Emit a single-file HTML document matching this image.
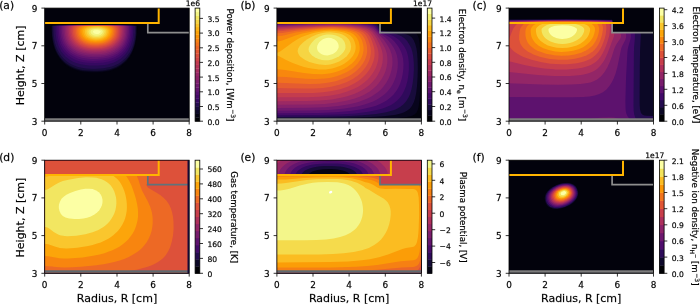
<!DOCTYPE html>
<html><head><meta charset="utf-8"><title>Plasma simulation figure</title>
<style>html,body{margin:0;padding:0;background:#fff}svg{display:block}</style></head>
<body>
<svg width="700" height="304" viewBox="0 0 700 304" font-family="'DejaVu Sans','Liberation Sans',sans-serif" fill="#000"><style>text{stroke:#000;stroke-width:0.3px;stroke-opacity:.6}</style>
<rect width="700" height="304" fill="#fff"/>
<g>
<rect x="44.7" y="8.1" width="144.5" height="113.1" fill="#02020c"/>
<clipPath id="ca"><rect x="44.7" y="8.1" width="144.5" height="113.1"/></clipPath>
<g clip-path="url(#ca)">
<path fill="#040312" d="M83.3 72.2L90.8 72.8L97.1 72.8L101.6 72.6L107.9 71.7L111.5 70.8L114.2 69.8L117 68.7L119.7 67.2L122.4 65.3L125.1 63L127.2 60.9L129.4 58.1L131.2 55.2L132.6 52.4L134.8 46.7L136.1 41.1L137 34.5L137.2 26L136.8 25.6L135.9 25.3L135 25.3L106.1 25.1L56.4 25.2L51.9 25.4L51.1 26L51.4 35.4L51.9 39.2L52.8 43.9L54.1 48.6L55.2 51.5L57.1 55.2L58.9 58.1L61 60.7L63.7 63.5L66.4 65.7L69.1 67.4L71.8 68.9L75.4 70.3L79 71.4L82.6 72.1Z"/>
<path fill="#0c0826" d="M84.6 71.2L92.6 71.7L98 71.7L102.5 71.4L106.1 70.9L109.7 70.2L113.3 69.1L116 67.9L118.8 66.5L121.5 64.8L124.2 62.6L126 60.9L127.8 58.8L129.7 56.2L131.4 53.3L132.7 50.5L134.4 45.8L135.7 40.1L136.5 33.5L136.7 26L135.9 25.6L130.5 25.3L103.4 25.1L61 25.3L52.8 25.6L51.6 26L51.8 31.7L52.1 36.4L52.6 40.1L53.4 43.9L54.5 47.7L56 51.5L57.5 54.3L59.3 57.1L61.5 59.9L63.7 62.2L66.4 64.4L70 66.8L73.6 68.5L77.2 69.8L80.8 70.7L84.4 71.2Z"/>
<path fill="#180c3c" d="M84.7 70.3L92.6 70.8L98 70.7L102.5 70.4L107 69.8L110.6 69L116 67L119.7 65L121.5 63.8L123.9 61.8L126 59.8L127.8 57.7L129.6 55.1L131.4 52L132.5 49.6L134.1 44.9L135.2 40.1L136 33.5L136.2 26L134.1 25.7L127.8 25.4L104.3 25.2L64.6 25.3L56.4 25.6L52.8 25.8L52.3 26L52.6 35.4L53.4 41.1L54.3 44.9L55.2 47.7L56.4 50.7L58.2 54.2L60.1 56.9L61.9 59.2L64.6 61.9L67.3 64L70 65.7L72.7 67.1L77.2 68.8L80.8 69.7L84.4 70.3Z"/>
<path fill="#260c51" d="M86.5 68.4L90.8 68.7L96.2 68.7L103.4 68.3L109.7 67.1L113.3 66L116 64.8L118.8 63.4L121.5 61.6L124.2 59.3L126 57.4L127.8 55.1L129.6 52.4L131.1 49.6L132.3 46.7L133.7 42L134.6 37.3L135 32.8L135.2 26L130.5 25.6L125.1 25.4L102.5 25.2L67.3 25.4L59.2 25.6L53.4 26L53.5 30.7L53.8 35.4L54.3 39.2L55.1 43L56.3 46.7L58 50.5L59.6 53.3L61.6 56.2L63.7 58.5L66.4 61L69.1 62.9L71.8 64.4L75.4 66L78.1 66.9L81.7 67.8L86.2 68.4Z"/>
<path fill="#360961" d="M82.3 64.6L89 65.4L98 65.5L104.3 65L107.9 64.4L110.6 63.6L113.3 62.7L116 61.5L120.6 58.8L122.4 57.3L124.5 55.2L126.1 53.3L128.1 50.5L130.5 45.8L132.2 40.1L132.8 37.3L133.2 33.5L133.5 26L125.1 25.5L107 25.3L70 25.4L61 25.6L55.4 26L55.6 33.5L56.6 40.1L58.4 45.8L59.7 48.6L61.3 51.5L63.5 54.3L65.5 56.4L67.4 58.1L70 59.9L72.7 61.5L75.4 62.7L78.1 63.6L81.7 64.5Z"/>
<path fill="#440a68" d="M87.3 62.8L95.3 63.1L102.5 62.7L108.8 61.6L114.2 59.7L118.8 57.2L121.4 55.2L123.3 53.5L125.1 51.4L126.9 48.8L128.1 46.7L129.3 43.9L130.6 40.1L131.5 35.4L131.9 30.7L131.9 26L122.4 25.5L101.6 25.3L70.9 25.4L62.8 25.7L57.1 26L57.4 33.5L57.9 37.3L58.5 40.1L59.4 43L60.5 45.8L62 48.6L64 51.5L65.7 53.3L68.2 55.6L70.9 57.6L73.6 59.1L76.3 60.3L79.9 61.5L83.5 62.3L87.1 62.8Z"/>
<path fill="#520e6d" d="M93.2 60.9L101.6 60.6L107.9 59.6L113.3 57.8L116 56.5L118.8 54.8L121.5 52.6L123.3 50.7L125.1 48.4L126.7 45.8L128 43L129 40.1L129.7 37.3L130.3 33.5L130.5 29.8L130.5 26L119.7 25.5L97.1 25.3L71.8 25.5L58.8 26L58.8 30.7L59.1 34.5L59.8 38.3L60.5 41.1L61.6 43.9L63.1 46.7L64.6 49L66.7 51.5L69.1 53.7L71.8 55.6L74.5 57.1L77.2 58.3L80.8 59.5L84.4 60.2L88.1 60.7L92.6 60.9Z"/>
<path fill="#61136e" d="M83.4 58.1L89.9 58.9L97.1 59L103.4 58.5L108.8 57.4L113.3 55.8L117.9 53.2L121.5 50.2L124.2 47L125.5 44.9L126.8 42L128.3 37.3L129.1 31.7L129.1 26L120.6 25.6L107 25.4L76.3 25.5L60.4 26L60.4 31.7L61.1 37.3L62.6 42L63.7 44.3L65.1 46.7L66.6 48.6L68.3 50.5L70.5 52.4L72.7 53.9L77.2 56.2L82.6 57.9Z"/>
<path fill="#6f196e" d="M89.6 57.1L97.1 57.2L103.4 56.8L108.8 55.6L113.3 53.9L116 52.4L117.9 51.2L119.7 49.7L121.5 47.9L124.2 44.2L126.1 40.1L127 37.3L127.6 33.5L127.9 28.8L127.8 26L117.9 25.6L100.7 25.4L75.4 25.5L61.9 26L61.7 28.8L61.9 32.6L62.3 35.4L62.9 38.3L63.9 41.1L64.8 43L66.4 45.6L68 47.7L70 49.7L72.1 51.5L74.5 53L77.2 54.3L79.9 55.3L82.6 56.1L85.3 56.6L89 57.1Z"/>
<path fill="#7d1e6d" d="M86.8 55.2L92.6 55.7L99.8 55.6L105.2 54.9L109.7 53.7L114.2 51.7L117.9 49.3L120.6 46.7L122.1 44.9L123.3 43L125.1 39.2L126.1 35.4L126.6 30.7L126.7 27.9L126.4 26L117.9 25.6L103.4 25.5L78.1 25.6L63.4 26L63.2 27.9L63.2 30.7L63.5 33.5L64 36.4L64.8 39.2L65.5 41.1L66.5 43L68.2 45.5L71.2 48.6L73.6 50.5L75.4 51.6L78.1 52.9L80.8 53.9L86.2 55.2Z"/>
<path fill="#8c2369" d="M84.5 53.3L89.9 54.1L96.2 54.3L101.6 54L106.1 53.2L110.6 51.8L114.2 50.1L117.9 47.5L120.6 44.7L122.9 41.1L123.7 39.2L124.6 36.4L125.1 33.5L125.4 30.7L125.4 27.9L125.1 26L106.1 25.5L80.8 25.6L64.9 26L64.6 27.9L64.6 29.8L64.8 32.6L65.2 35.4L66 38.3L66.7 40.1L68.9 43.9L71.8 47.2L75.4 49.9L79.9 52L84.4 53.3Z"/>
<path fill="#982766" d="M87 52.4L92.6 52.9L98.9 52.8L103.4 52.4L107.9 51.3L111.5 50L115.5 47.7L118.7 44.9L120.9 42L122.7 38.3L123.8 34.5L124.1 31.7L124.2 28.8L124.1 26.9L123.8 26L104.3 25.6L81.7 25.6L66.4 26L66 27.9L66 29.8L66.2 32.6L66.6 35.4L67.8 39.2L68.8 41.1L70 43L71.5 44.9L73.5 46.7L77.2 49.2L81.7 51.2L86.2 52.3Z"/>
<path fill="#a62d60" d="M89.9 51.5L95.3 51.7L100.7 51.4L105.2 50.7L109.7 49.3L113.3 47.5L116.9 44.9L119.4 42L121 39.2L122.1 36.4L122.8 32.6L123 27.9L122.4 26L101.6 25.6L81.7 25.7L67.9 26L67.4 27.9L67.4 29.8L67.5 32.6L68 35.4L69.3 39.2L70.4 41.1L71.8 43.1L73.5 44.9L75.4 46.5L79 48.6L83.5 50.3L89 51.4Z"/>
<path fill="#b43359" d="M85.7 49.6L89.9 50.2L95.3 50.5L100.7 50.2L105.2 49.5L108.8 48.4L112.4 46.7L115.1 44.8L117.8 42L119.2 40.1L120.1 38.3L121.3 34.5L121.7 31.7L121.8 28.8L121.5 26.9L121 26L105.2 25.6L84.4 25.7L69.5 26L69.1 26.9L68.7 28.8L69 33.5L70 37.3L70.9 39.2L72 41.1L74.4 43.9L77.2 46.1L80.8 48L85.3 49.5Z"/>
<path fill="#c13a50" d="M86.9 48.6L91.7 49.3L97.1 49.3L101.6 49L105.2 48.3L108.8 47.1L111.6 45.8L114.3 43.9L117 41.2L118.3 39.2L119.3 37.3L120.3 33.5L120.6 28.8L120.2 26.9L119.6 26L105.2 25.7L86.2 25.7L71.1 26L70.5 26.9L70.1 28.8L70.3 32.6L71.1 36.4L71.9 38.3L73 40.1L75.3 43L78.1 45.2L81.7 47.1L86.2 48.5Z"/>
<path fill="#ce4347" d="M87.9 47.7L91.7 48.2L97.1 48.3L101.6 47.9L105.2 47.2L108.8 45.9L111.5 44.5L114.2 42.4L116.3 40.1L117.5 38.3L118.4 36.4L119.3 32.6L119.4 28.8L118.8 26.9L118.2 26L103.4 25.7L86.2 25.7L72.7 26L71.7 27.9L71.5 28.8L71.5 31.7L72.2 35.4L72.9 37.3L73.9 39.2L76.2 42L79 44.3L82.6 46.2L87.1 47.5Z"/>
<path fill="#d94d3d" d="M88.8 46.7L92.6 47.2L98 47.2L101.6 46.8L105.2 46.1L108.8 44.7L111.5 43.2L114 41.1L115.6 39.2L116.7 37.3L117.4 35.4L118.2 31.7L118.2 28.8L117.4 26.9L116.7 26L103.4 25.8L87.1 25.8L74.4 26L73.6 26.9L72.9 28.8L73 32.6L73.3 34.5L74 36.4L75.5 39.2L78.1 42L80.7 43.9L84.4 45.6L88.1 46.6Z"/>
<path fill="#e25734" d="M89.6 45.8L93.5 46.2L98 46.2L101.6 45.8L105.2 45L107.9 44L110.6 42.4L113.3 40.1L114.8 38.3L115.8 36.4L116.5 34.5L117 30.7L116.9 28.8L116.6 27.9L116 26.9L115.1 26L102.5 25.8L76.1 26L75.2 26.9L74.3 28.8L74.2 30.7L74.4 32.6L74.8 34.5L75.4 36.4L77.1 39.2L79 41.2L81.7 43.1L85.3 44.8L89 45.7Z"/>
<path fill="#eb6429" d="M90.1 44.9L93.5 45.2L98 45.2L101.6 44.8L105.2 43.9L107.9 42.8L110.6 41.1L112.6 39.2L114 37.3L115.2 34.5L115.7 32.6L115.8 30.7L115.6 28.8L115.2 27.9L114.2 26.7L113.4 26L101.6 25.8L78 26L76.9 26.9L76.2 27.9L75.6 29.8L75.9 33.5L76.9 36.4L78.8 39.2L80.8 41.1L83.5 42.8L86.2 43.9L89.9 44.8Z"/>
<path fill="#f1731d" d="M90.6 43.9L94.4 44.3L98 44.2L101.6 43.8L104.3 43.1L107 42.1L108.8 41L111.1 39.2L112.6 37.3L114 34.5L114.5 31.7L114.5 29.8L114.3 28.8L113.3 27.4L111.6 26L101.6 25.9L80 26L78.7 26.9L77.8 27.9L77.3 28.8L77.1 29.8L77.2 32.6L78 35.4L79.7 38.3L81.7 40.3L84.4 42L87.1 43.1L89.9 43.8Z"/>
<path fill="#f78212" d="M91.1 43L94.4 43.3L98 43.3L100.7 43L103.4 42.4L106.1 41.3L108.2 40.1L110.4 38.3L111.8 36.4L112.7 34.5L113.3 31.7L113.3 29.8L112.9 28.8L112.3 27.9L111.3 26.9L109.7 26L100.7 25.9L82.1 26L79.9 27.5L78.8 28.8L78.5 29.8L78.5 30.7L78.8 33.5L79.5 35.4L80.8 37.6L82.6 39.4L85.2 41.1L88.1 42.3L90.8 42.9Z"/>
<path fill="#fa9207" d="M91.6 42L94.4 42.3L98 42.3L100.7 42L103.4 41.3L106.1 40.1L107.6 39.2L108.8 38.2L110.4 36.4L111.3 34.5L112 31.7L111.9 29.8L111.5 28.8L110.7 27.9L109.4 26.9L107.4 26L101.6 25.9L84.6 26L82.5 26.9L81.3 27.9L80.5 28.8L80.1 29.8L80 30.7L80.3 33.5L81.1 35.4L82.3 37.3L84.4 39.2L85.9 40.1L88.1 41.1L90.8 41.9Z"/>
<path fill="#fca309" d="M92.1 41.1L95.3 41.4L98 41.3L100.7 41L102.5 40.5L105.2 39.4L107 38.3L108 37.3L109.5 35.4L110.3 33.5L110.7 31.7L110.5 29.8L110 28.8L109 27.9L107.9 27.2L105.2 26.2L104.6 26L100.7 26L87.5 26L84.4 27.1L83.2 27.9L82.2 28.8L81.6 29.8L81.5 30.7L81.6 32.6L82.2 34.5L83.3 36.4L85.2 38.3L86.6 39.2L89 40.3L91.7 41Z"/>
<path fill="#fcb216" d="M92.8 40.1L95.3 40.4L98 40.3L100.7 39.9L102.5 39.4L104.3 38.6L106.3 37.3L107.2 36.4L108.5 34.5L109.1 32.6L109.3 30.7L109.1 29.8L108.4 28.8L107.1 27.9L104.9 26.9L102.5 26.3L99.8 26L92.1 26L89 26.5L87.1 27.1L85.3 27.9L84 28.8L83.3 29.8L83.1 30.7L83.1 31.7L83.5 33.5L84.4 35.4L85.1 36.4L86.2 37.4L88.1 38.6L89.9 39.4L92.6 40.1Z"/>
<path fill="#fac42a" d="M93.8 39.2L96.2 39.4L98.8 39.2L100.7 38.8L102.5 38.2L104.2 37.3L105.5 36.4L106.4 35.4L107.4 33.5L107.7 32.6L107.8 30.7L107.5 29.8L106.6 28.8L104.9 27.9L103.4 27.4L101.6 26.9L98.9 26.6L94.4 26.6L89.9 27.2L87.1 28.1L86 28.8L85.1 29.8L84.8 30.7L84.9 32.6L85.3 33.9L86.2 35.4L87.1 36.4L89 37.7L90.8 38.5L93.5 39.2Z"/>
<path fill="#f6d543" d="M96.1 38.3L99.8 37.9L102.5 36.9L104.5 35.4L105.3 34.5L106.2 32.6L106.3 30.7L105.8 29.8L104.6 28.8L101.6 27.8L98 27.3L94.4 27.4L90.8 27.9L88.1 29L87 29.8L86.5 30.7L86.5 31.7L87 33.5L87.5 34.5L89 36L91.7 37.5L93.5 38L95.3 38.2Z"/>
<path fill="#f2e661" d="M92.4 36.4L95.3 37L98 37L100.6 36.4L102.5 35.4L103.4 34.5L104.1 33.5L104.7 31.7L104.6 30.7L103.8 29.8L101.6 28.7L98 28.1L94.4 28.2L91 28.8L89.2 29.8L88.5 30.7L88.4 31.7L88.6 32.6L88.9 33.5L89.6 34.5L90.7 35.4L91.7 36Z"/>
<path fill="#f3f586" d="M94.2 35.4L96.2 35.7L98.9 35.5L100.7 34.8L102.1 33.5L102.6 32.6L102.8 31.7L102.7 30.7L101.5 29.8L99.8 29.3L97.1 28.9L94.4 29.1L91.8 29.8L90.8 30.6L90.5 31.7L90.7 32.6L91.2 33.5L92.2 34.5L93.5 35.2Z"/>
<path fill="#fcffa4" d="M94.3 33.5L96.2 34.1L98 34.1L98.9 33.8L100.3 32.6L100.7 31.7L100.3 30.7L98.9 30.2L97.1 29.9L94.4 30.3L93.3 30.7L92.9 31.7L93.5 32.8Z"/>
<path d="M147.8 23.2V32.6H189.2" fill="none" stroke="#8e8e8e" stroke-width="1.7"/>
<path d="M44.7 119.45H189.2" fill="none" stroke="#7d7d7d" stroke-width="2.6"/>
<path d="M44.7 22.9H158.7V8.1" fill="none" stroke="#ffb400" stroke-width="2" stroke-linejoin="miter"/>
</g>
<rect x="44.7" y="8.1" width="144.5" height="113.1" fill="none" stroke="#000" stroke-width="0.8"/>
<path d="M44.7 121.2v3.3M80.8 121.2v3.3M117.0 121.2v3.3M153.1 121.2v3.3M189.2 121.2v3.3M44.7 121.2h-3.3M44.7 83.5h-3.3M44.7 45.8h-3.3M44.7 8.1h-3.3" stroke="#000" stroke-width="0.8" fill="none"/>
<g font-size="8.9" text-anchor="middle">
<text x="44.7" y="135.9">0</text>
<text x="80.8" y="135.9">2</text>
<text x="117.0" y="135.9">4</text>
<text x="153.1" y="135.9">6</text>
<text x="189.2" y="135.9">8</text>
</g><g font-size="8.9" text-anchor="end">
<text x="37.4" y="124.6">3</text>
<text x="37.4" y="86.9">5</text>
<text x="37.4" y="49.2">7</text>
<text x="37.4" y="11.5">9</text>
</g>
<rect x="195.1" y="117.43" width="4.7" height="4.07" fill="#000004"/>
<rect x="195.1" y="113.66" width="4.7" height="4.07" fill="#040312"/>
<rect x="195.1" y="109.89" width="4.7" height="4.07" fill="#0c0826"/>
<rect x="195.1" y="106.12" width="4.7" height="4.07" fill="#180c3c"/>
<rect x="195.1" y="102.35" width="4.7" height="4.07" fill="#260c51"/>
<rect x="195.1" y="98.58" width="4.7" height="4.07" fill="#360961"/>
<rect x="195.1" y="94.81" width="4.7" height="4.07" fill="#440a68"/>
<rect x="195.1" y="91.04" width="4.7" height="4.07" fill="#520e6d"/>
<rect x="195.1" y="87.27" width="4.7" height="4.07" fill="#61136e"/>
<rect x="195.1" y="83.50" width="4.7" height="4.07" fill="#6f196e"/>
<rect x="195.1" y="79.73" width="4.7" height="4.07" fill="#7d1e6d"/>
<rect x="195.1" y="75.96" width="4.7" height="4.07" fill="#8c2369"/>
<rect x="195.1" y="72.19" width="4.7" height="4.07" fill="#982766"/>
<rect x="195.1" y="68.42" width="4.7" height="4.07" fill="#a62d60"/>
<rect x="195.1" y="64.65" width="4.7" height="4.07" fill="#b43359"/>
<rect x="195.1" y="60.88" width="4.7" height="4.07" fill="#c13a50"/>
<rect x="195.1" y="57.11" width="4.7" height="4.07" fill="#ce4347"/>
<rect x="195.1" y="53.34" width="4.7" height="4.07" fill="#d94d3d"/>
<rect x="195.1" y="49.57" width="4.7" height="4.07" fill="#e25734"/>
<rect x="195.1" y="45.80" width="4.7" height="4.07" fill="#eb6429"/>
<rect x="195.1" y="42.03" width="4.7" height="4.07" fill="#f1731d"/>
<rect x="195.1" y="38.26" width="4.7" height="4.07" fill="#f78212"/>
<rect x="195.1" y="34.49" width="4.7" height="4.07" fill="#fa9207"/>
<rect x="195.1" y="30.72" width="4.7" height="4.07" fill="#fca309"/>
<rect x="195.1" y="26.95" width="4.7" height="4.07" fill="#fcb216"/>
<rect x="195.1" y="23.18" width="4.7" height="4.07" fill="#fac42a"/>
<rect x="195.1" y="19.41" width="4.7" height="4.07" fill="#f6d543"/>
<rect x="195.1" y="15.64" width="4.7" height="4.07" fill="#f2e661"/>
<rect x="195.1" y="11.87" width="4.7" height="4.07" fill="#f3f586"/>
<rect x="195.1" y="8.10" width="4.7" height="4.07" fill="#fcffa4"/>
<rect x="195.1" y="8.1" width="4.7" height="113.1" fill="none" stroke="#000" stroke-width="0.8"/>
<g font-size="7.6">
<text x="207.4" y="124.5">0.0</text>
<text x="207.4" y="109.9">0.5</text>
<text x="207.4" y="95.2">1.0</text>
<text x="207.4" y="80.5">1.5</text>
<text x="207.4" y="65.8">2.0</text>
<text x="207.4" y="51.1">2.5</text>
<text x="207.4" y="36.4">3.0</text>
<text x="207.4" y="21.7">3.5</text>
</g>
<path d="M199.8 121.2h3.2M199.8 106.5h3.2M199.8 91.8h3.2M199.8 77.1h3.2M199.8 62.4h3.2M199.8 47.8h3.2M199.8 33.1h3.2M199.8 18.4h3.2" stroke="#000" stroke-width="0.8" fill="none"/>
<text x="200.0" y="5.6" font-size="7.6" text-anchor="end">1e6</text>
<text transform="translate(227.1 65.0) rotate(90)" font-size="8.7" text-anchor="middle">Power deposition, [Wm<tspan dx="0.5" dy="-3.6" font-size="6">−3</tspan><tspan dy="3.6">]</tspan></text>
<text transform="translate(24.4 65.4) rotate(-90)" font-size="11" text-anchor="middle">Height, Z [cm]</text>
<text x="-0.8" y="9.2" font-size="10.7">(a)</text>
</g>
<g>
<rect x="276.9" y="8.1" width="144.5" height="113.1" fill="#02020c"/>
<clipPath id="cb"><rect x="276.9" y="8.1" width="144.5" height="113.1"/></clipPath>
<g clip-path="url(#cb)">
<path fill="#08051d" d="M276.9 118.4L276.9 118.8L345.5 118.7L386.6 118.4L397.9 117.9L405.1 117.3L410.6 116.3L412.7 115.5L414.5 114.6L416.4 112.7L417.8 110L418.7 106.5L419.5 100.5L420 91L420.3 77.8L420.4 63.7L420.1 52.4L419.6 43L418.8 38.3L418.2 36.4L417.1 34.5L416.1 33.5L414 32.6L411.5 32.1L408.9 31.7L405.1 31.5L381.7 30.7L379.9 30.5L379.6 29.8L379.3 25.1L379 23.9L378 23.4L377.1 23.2L374.4 23L364.5 22.7L344.6 22.6L276.9 22.7L276.9 117.4Z"/>
<path fill="#180c3c" d="M276.9 117.4L276.9 118.2L315.7 118.1L348.2 117.8L370.8 117.1L383.5 116.2L394.3 114.9L397.9 114.2L401.5 113.2L404.2 112.2L406.9 110.8L409.7 108.8L411.9 106.1L413.8 102.3L415.1 98.3L416.2 92.9L417 86.3L417.6 76.9L417.8 67.5L417.6 59.9L417.2 53.3L416.5 48.6L415.3 43.9L413.6 40.1L411.6 37.3L409.2 35.4L406.9 34.4L403.3 33.3L397.9 32.3L392.1 31.7L379.9 31L379.3 29.8L379 26.5L378 24.7L377.1 24.1L373.5 23.5L360.9 23.1L341 22.9L276.9 23.1L276.9 116.5Z"/>
<path fill="#2f0a5b" d="M276.9 116.5L276.9 116.9L325.7 116.7L345.5 116.3L362.7 115.3L376.2 114L386.2 112.2L390.7 111.1L394.2 109.9L397 108.7L400 107.1L403.3 104.6L406 101.6L408.5 97.6L410.1 93.9L411.5 89.2L412.6 83.5L413.4 76.9L413.9 69.4L413.8 62.8L413.3 57.1L412.5 52.4L411.4 48.6L409.6 44.9L407.1 41.1L404.4 38.3L401.5 36.3L397.3 34.5L394.1 33.5L389.6 32.6L379.9 31.3L379.3 30.7L378 26.8L377.1 25.5L376.2 24.9L375.3 24.5L372.6 24L361.8 23.5L341 23.2L276.9 23.5L276.9 115.5Z"/>
<path fill="#450a69" d="M276.9 114.6L276.9 115.3L318.4 115.1L338.3 114.5L355.5 113.4L368.3 111.8L378 109.8L382.6 108.5L386.5 107.1L390.6 105.2L393.4 103.5L397 100.7L399.7 98L402.1 94.8L404.2 90.8L406 86.2L407.5 80.7L408.4 75L408.9 69.4L408.9 63.7L408.5 59L407.6 54.3L406.4 50.5L404.4 46.7L401.7 43L399.1 40.1L396.1 37.7L394.1 36.4L389.8 34.5L379.9 31.6L378.9 30.7L377.1 27.4L375.8 26L373.5 25L369 24.2L356.4 23.7L336.5 23.4L276.9 23.9L276.9 113.7Z"/>
<path fill="#5c126e" d="M276.9 112.7L276.9 113.2L318.4 112.9L335.6 112.3L350.1 111.1L361.8 109.3L371.5 107.1L375.3 105.9L379.5 104.2L383.5 102.3L386.6 100.5L390.4 97.6L393.4 94.7L396.3 91L398.5 87.3L400.2 83.5L401.7 78.8L402.7 74.1L403.4 68.4L403.5 63.7L403.1 59L402.3 55.2L401 51.5L399.1 47.7L397.2 44.9L394 41.1L390.7 38.1L386.6 35.4L379.9 32.4L378 30.7L376 27.9L374.4 26.6L371.7 25.5L367.2 24.7L358.2 24L336.5 23.7L276.9 24.3L276.9 111.8Z"/>
<path fill="#71196e" d="M276.9 109.9L276.9 110.8L309.4 110.6L328.4 110L342.8 108.8L354.2 107.1L359.1 106L364.5 104.6L369 103.1L373.2 101.4L377 99.5L380.1 97.6L384 94.8L387 92L389.8 88.7L392 85.4L394 81.6L395.8 76.9L397 72.2L397.7 67.5L397.9 62.8L397.6 59L396.9 55.2L395.6 51.5L393.7 47.7L391.2 43.9L388 40.1L385.1 37.3L379 32.9L377.6 31.7L375.3 29L373.5 27.6L371.7 26.7L369.7 26L364.4 25.1L349.7 24.1L332.9 23.9L311.3 24.1L276.9 24.9L276.9 108.9Z"/>
<path fill="#87216b" d="M276.9 107.1L276.9 108L307.6 107.8L324.8 107.2L338.3 106L349.2 104.2L354.6 103L359.1 101.7L363.6 100.1L367.3 98.6L371.1 96.7L374.4 94.6L378.1 92L381.2 89.2L383.7 86.3L386.4 82.6L388.5 78.8L390.4 74.1L391.6 69.8L392.3 65.6L392.5 61.8L392.3 58.1L391.6 54.3L390.3 50.5L389 47.7L386.7 43.9L384 40.1L380.8 36.5L374.4 30L373 28.8L371.4 27.9L369 26.9L366.3 26.3L359.1 25.2L346.4 24.5L329.3 24.3L298.6 24.9L276.9 25.6L276.9 106.1Z"/>
<path fill="#9b2964" d="M276.9 104.2L276.9 104.8L311.2 104.5L324.8 103.9L336.5 102.6L346.4 100.8L351 99.6L355.5 98.2L359.6 96.7L363.6 94.9L367.2 92.9L369.9 91.2L373.5 88.4L376.7 85.4L379.2 82.6L381.7 79.1L383.9 75L385.3 71.7L386.5 67.5L387.2 63.7L387.4 59.9L387.3 57.1L386.7 53.3L385.9 50.5L384.8 47.7L382.8 43.9L379.9 39.2L377.2 35.4L374.8 32.6L373 30.7L370.8 29.2L369 28.3L366.3 27.3L363.6 26.7L359.6 26L354.6 25.5L342.8 24.8L326.6 24.7L312.3 25.1L276.9 26.4L276.9 103.3Z"/>
<path fill="#b1325a" d="M276.9 100.5L276.9 101.2L306.7 101.1L320.2 100.6L332 99.4L341.9 97.6L346.4 96.5L351 95.1L354.6 93.7L358.5 92L361.8 90.2L365 88.2L368.8 85.4L371.7 82.7L374.4 79.7L376.5 76.9L378.3 74.1L380.1 70.3L381.5 66.5L382.4 62.8L382.8 59L382.8 56.2L382.5 53.3L381.9 50.5L380.6 46.7L378.9 43L376.5 38.3L374.4 35.1L372.5 32.6L370.8 31.1L368.9 29.8L366.9 28.8L364.1 27.9L360 26.9L351 25.8L338.3 25.2L325.7 25.2L304.1 26L276.9 27.3L276.9 99.5Z"/>
<path fill="#c43c4e" d="M276.9 96.7L276.9 97.2L306.7 97.3L319.3 96.7L329.3 95.7L339.2 93.9L347.3 91.6L354.6 88.6L358.2 86.7L360.9 85L364.2 82.6L367.2 79.9L369.9 77L372.2 74.1L374.4 70.6L376 67.5L377.1 64.3L378 60.9L378.5 57.1L378.6 54.3L378.3 51.5L377.7 48.6L376.5 44.9L374.1 39.2L372.6 36.4L370.8 33.8L369 32L367.2 30.7L365.4 29.8L361.8 28.5L359.1 27.8L354.3 26.9L343.8 26L332.9 25.7L322.1 25.9L300.7 26.9L282.3 28.2L276.9 28.4L276.9 95.8Z"/>
<path fill="#d74b3f" d="M284.4 92.9L302.2 93.1L313 92.9L323 92.3L332 91L340.2 89.2L344.6 87.8L348.2 86.4L354.6 83.3L358.2 81L360.9 79L363.6 76.6L366.3 73.8L369 70.3L370.7 67.5L372.1 64.6L373.5 60.9L374.4 57.1L374.6 54.3L374.5 50.5L373.8 46.7L372.3 42L370.8 38.3L369.2 35.4L367.6 33.5L365.4 31.7L363.6 30.7L361.6 29.8L358.7 28.8L351.9 27.5L343.7 26.7L332.9 26.3L325.7 26.4L316.6 26.8L299.5 27.9L282.3 29.4L276.9 29.7L276.9 92.9L284.1 92.9Z"/>
<path fill="#e55c30" d="M287.1 88.2L304 88.6L313.9 88.5L323 87.9L331.1 86.8L339.2 84.8L346.4 82.2L352.8 79L358.2 75.2L360.9 72.7L363.6 69.8L366.1 66.5L367.7 63.7L369 60.9L370 58.1L370.7 54.3L370.9 51.5L370.6 47.7L369.7 43.9L368.1 39.2L366.7 36.4L365.3 34.5L363.2 32.6L360.9 31.2L358.2 30.1L353.6 28.8L346.4 27.8L337.4 27.1L328.4 27L322.1 27.2L312.7 27.9L297.7 29.2L282.3 30.9L276.9 31.2L276.9 88.1L286.8 88.2Z"/>
<path fill="#f1711f" d="M297.5 83.5L309.4 83.9L319.3 83.7L327.5 82.8L335.6 81.2L342.8 78.8L349.1 75.9L351.9 74.2L354.7 72.2L357.3 70L360 67.3L362.7 63.8L364.4 60.9L365.7 58.1L366.8 54.3L367.2 51.5L367.1 47.7L366.7 44.9L365.6 41.1L364.4 38.3L363.3 36.4L361.8 34.5L359.4 32.6L357.3 31.5L353.7 30.2L351 29.5L346.4 28.7L341 28.2L334.7 27.8L328.4 27.8L323 28L304 29.8L296.2 30.7L282.3 32.9L276.9 33.2L276.9 82.8L285 82.9L296.8 83.5Z"/>
<path fill="#f8870e" d="M306.2 78.8L315.7 79.1L324.8 78.6L329.3 78L332.9 77.3L336.5 76.3L340.1 75.1L346.4 72.3L349.8 70.3L352.5 68.4L354.7 66.5L357.3 63.9L359.1 61.6L360.8 59L362.1 56.2L363 53.3L363.5 50.5L363.6 47.7L363.2 44.9L362.2 41.1L360.9 38.3L359 35.4L356.8 33.5L355.2 32.6L353.1 31.7L350.2 30.7L345.9 29.8L342.8 29.4L333.8 28.7L323.9 28.8L314.4 29.8L301.1 31.7L295.8 32.6L282.3 35.7L279.6 36.1L276.9 36.3L276.9 76.7L285.9 77L305.8 78.8Z"/>
<path fill="#fca108" d="M313.3 74.1L322.1 74.2L329.3 73.5L332.9 72.8L336.5 71.8L340.1 70.5L343.7 68.9L346.4 67.4L349.1 65.6L351.9 63.4L354.3 60.9L356.4 58.2L357.6 56.2L358.5 54.3L359.4 51.5L359.7 49.6L359.7 46.7L359.3 43.9L358.5 41.1L357.1 38.3L355.8 36.4L353.8 34.5L352.3 33.5L350.3 32.6L347.6 31.7L343.7 30.8L341 30.4L336.5 29.9L332 29.6L323.9 29.9L316.6 30.7L302.2 33.5L295.5 35.4L282.3 40.6L279.6 41.2L276.9 41.4L276.9 69.3L280.5 69.5L285 69.9L304 73.1L313 74.1Z"/>
<path fill="#fbba1f" d="M318 69.4L322.1 69.5L325.7 69.4L332 68.5L335.6 67.5L338.3 66.6L341 65.4L344.2 63.7L347 61.8L349.1 60L351.1 58.1L352.8 56L354.3 53.3L355 51.5L355.5 49.6L355.7 46.7L355.5 44.9L354.7 42L353.9 40.1L352.8 38.1L351.3 36.4L350.1 35.3L348.2 34.2L345.5 33.1L342.8 32.3L339.2 31.6L334.7 31L330.2 30.8L326.6 30.9L323 31.2L315.7 32.5L311.7 33.5L305.7 35.4L301.1 37.3L297.5 39.2L293.1 42L280.5 51.2L278.7 52.2L276.9 52.7L276.9 55.6L277.8 55.7L279.6 56.5L286.1 59.9L292.1 62.8L299.5 65.6L304 66.9L308.5 68L313 68.8L317.5 69.3Z"/>
<path fill="#f6d543" d="M320.1 64.6L325.7 64.9L330.2 64.4L334.7 63.3L339.2 61.4L343.3 59L346.7 56.2L349.1 53.1L350 51.5L350.7 49.6L351.1 46.7L350.9 44.9L350.5 43L349.7 41.1L348.6 39.2L346.4 36.9L343.7 35.2L342.3 34.5L339.3 33.5L334.7 32.7L330.2 32.3L325.7 32.5L321.2 33.2L316.7 34.5L312.2 36.4L307.3 39.2L303.6 42L301.5 43.9L299.8 45.8L298.2 48.6L297.7 50.5L297.7 51.5L298.2 53.3L299.2 55.2L300 56.2L302.2 58.1L305.2 59.9L309.4 61.9L314.8 63.6L319.3 64.5Z"/>
<path fill="#f1ed71" d="M321.7 59.9L324.8 60.3L328.4 60.2L332 59.5L335.6 58.1L339.1 56.2L341.5 54.3L343.7 51.8L345 49.6L345.5 47.7L345.4 44.9L344.5 42L343.2 40.1L341.4 38.3L338.4 36.4L335.9 35.4L332.9 34.7L330.2 34.4L326.6 34.5L323 35.2L319.7 36.4L316.5 38.3L314.2 40.1L311.5 43L309.6 45.8L308.8 47.7L308.6 49.6L309 51.5L310.3 53.6L312.1 55.5L314.8 57.3L318.4 59L321.2 59.8Z"/>
<path fill="#fcffa4" d="M324.9 55.2L327.5 55.4L329.3 55.1L331.1 54.6L332.9 53.9L334.7 52.8L336.3 51.5L337.4 50.1L338.2 48.6L338.6 47.7L338.7 45.8L338.3 43.9L337.3 42L336.5 41.1L334.7 39.6L332.9 38.7L331.1 38.1L328.4 37.8L326.6 37.9L324.8 38.4L322.9 39.2L321.2 40.4L319.4 42L318.1 43.9L317.3 45.8L317 47.7L317.1 48.6L317.5 50.2L318.3 51.5L319.3 52.6L321.2 53.9L323 54.7L324.8 55.2Z"/>
<path d="M380.0 23.2V32.6H421.4" fill="none" stroke="#8e8e8e" stroke-width="1.7"/>
<path d="M276.9 119.45H421.4" fill="none" stroke="#7d7d7d" stroke-width="2.6"/>
<path d="M276.9 22.9H390.9V8.1" fill="none" stroke="#ffb400" stroke-width="2" stroke-linejoin="miter"/>
</g>
<rect x="276.9" y="8.1" width="144.5" height="113.1" fill="none" stroke="#000" stroke-width="0.8"/>
<path d="M276.9 121.2v3.3M313.0 121.2v3.3M349.1 121.2v3.3M385.3 121.2v3.3M421.4 121.2v3.3M276.9 121.2h-3.3M276.9 83.5h-3.3M276.9 45.8h-3.3M276.9 8.1h-3.3" stroke="#000" stroke-width="0.8" fill="none"/>
<g font-size="8.9" text-anchor="middle">
<text x="276.9" y="135.9">0</text>
<text x="313.0" y="135.9">2</text>
<text x="349.1" y="135.9">4</text>
<text x="385.3" y="135.9">6</text>
<text x="421.4" y="135.9">8</text>
</g><g font-size="8.9" text-anchor="end">
<text x="269.6" y="124.6">3</text>
<text x="269.6" y="86.9">5</text>
<text x="269.6" y="49.2">7</text>
<text x="269.6" y="11.5">9</text>
</g>
<rect x="427.3" y="115.54" width="4.7" height="5.96" fill="#000004"/>
<rect x="427.3" y="109.89" width="4.7" height="5.96" fill="#08051d"/>
<rect x="427.3" y="104.23" width="4.7" height="5.96" fill="#180c3c"/>
<rect x="427.3" y="98.58" width="4.7" height="5.95" fill="#2f0a5b"/>
<rect x="427.3" y="92.92" width="4.7" height="5.96" fill="#450a69"/>
<rect x="427.3" y="87.27" width="4.7" height="5.96" fill="#5c126e"/>
<rect x="427.3" y="81.61" width="4.7" height="5.96" fill="#71196e"/>
<rect x="427.3" y="75.96" width="4.7" height="5.95" fill="#87216b"/>
<rect x="427.3" y="70.31" width="4.7" height="5.95" fill="#9b2964"/>
<rect x="427.3" y="64.65" width="4.7" height="5.96" fill="#b1325a"/>
<rect x="427.3" y="58.99" width="4.7" height="5.96" fill="#c43c4e"/>
<rect x="427.3" y="53.34" width="4.7" height="5.96" fill="#d74b3f"/>
<rect x="427.3" y="47.68" width="4.7" height="5.95" fill="#e55c30"/>
<rect x="427.3" y="42.03" width="4.7" height="5.96" fill="#f1711f"/>
<rect x="427.3" y="36.37" width="4.7" height="5.96" fill="#f8870e"/>
<rect x="427.3" y="30.72" width="4.7" height="5.95" fill="#fca108"/>
<rect x="427.3" y="25.06" width="4.7" height="5.96" fill="#fbba1f"/>
<rect x="427.3" y="19.41" width="4.7" height="5.95" fill="#f6d543"/>
<rect x="427.3" y="13.75" width="4.7" height="5.96" fill="#f1ed71"/>
<rect x="427.3" y="8.10" width="4.7" height="5.95" fill="#fcffa4"/>
<rect x="427.3" y="8.1" width="4.7" height="113.1" fill="none" stroke="#000" stroke-width="0.8"/>
<g font-size="7.6">
<text x="439.6" y="124.5">0.0</text>
<text x="439.6" y="109.8">0.2</text>
<text x="439.6" y="95.1">0.4</text>
<text x="439.6" y="80.4">0.6</text>
<text x="439.6" y="65.6">0.8</text>
<text x="439.6" y="50.9">1.0</text>
<text x="439.6" y="36.2">1.2</text>
<text x="439.6" y="21.5">1.4</text>
</g>
<path d="M432.0 121.2h3.2M432.0 106.5h3.2M432.0 91.7h3.2M432.0 77.0h3.2M432.0 62.3h3.2M432.0 47.6h3.2M432.0 32.8h3.2M432.0 18.1h3.2" stroke="#000" stroke-width="0.8" fill="none"/>
<text x="432.2" y="5.6" font-size="7.6" text-anchor="end">1e17</text>
<text transform="translate(459.2 65.0) rotate(90)" font-size="8.7" text-anchor="middle">Electron density, n<tspan dy="2" font-size="6">e</tspan><tspan dy="-2"> [m</tspan><tspan dx="0.5" dy="-3.6" font-size="6">−3</tspan><tspan dy="3.6">]</tspan></text>
<text x="240.4" y="9.2" font-size="10.7">(b)</text>
</g>
<g>
<rect x="509.0" y="8.1" width="144.5" height="113.1" fill="#02020c"/>
<clipPath id="cc"><rect x="509.0" y="8.1" width="144.5" height="113.1"/></clipPath>
<g clip-path="url(#cc)">
<path fill="#0c0826" d="M509 119.3L509 120L618.3 120.1L653.5 119.9L653.5 32.2L641.8 32.1L612.9 31.8L612.7 21.3L612.6 20.4L612 19.5L564.1 19.1L509 19.4L509 118.4Z"/>
<path fill="#240c4f" d="M509 119.3L509 119.8L618.3 119.9L653.5 119.4L653.5 116L646.3 115.7L644.5 115.5L642.7 114.8L641.8 114.1L640.9 112.8L640 109.3L639.7 105.2L639.6 99.5L639.8 66.5L640.1 49.6L640.8 35.4L640.7 32.6L630.9 32.1L612.9 31.9L612.6 31.7L612.6 22.2L612.3 20.4L612 19.9L596.6 19.7L566.8 19.5L509 19.8L509 118.4Z"/>
<path fill="#420a68" d="M509 119.3L509 119.6L607.4 119.7L624.6 119.6L636.3 119.3L635.2 117.4L634.2 114.6L633.7 110.8L633.5 105.2L633.9 53.3L634.1 46.7L634.9 38.3L634.9 32.6L626.4 32.2L612.9 32.1L612.5 31.7L612.5 22.2L612 20.3L596.6 20L566.8 19.8L540.6 19.9L509 20.2L509 118.4Z"/>
<path fill="#5d126e" d="M509 119.3L607.4 119.5L630.3 119.3L629.2 118.4L627.7 116.5L626.4 113.7L625.9 111.8L625.6 108.9L625.4 101.4L626 78.8L627.4 52.4L627.7 49.6L628.3 46.7L630.5 39.2L630.8 37.3L630.8 34.5L630.5 32.6L624.6 32.4L612.9 32.2L612.4 31.7L612.4 22.2L612 20.8L596.6 20.3L566.8 20L541.5 20.1L509 20.6L509 118.4Z"/>
<path fill="#781c6d" d="M587.9 119.3L620 119.3L619.2 119L614.7 117.8L612 117.5L608.3 117.4L600.2 117.8L588.5 119.2ZM509 96.7L509 96.9L555.1 97.2L572.2 97.2L583.1 96.9L589.4 96.4L594.8 95.5L599.3 94.1L602.9 92.2L606.5 89.4L609.2 86.3L611.7 82.6L613.8 78.3L615.6 73.4L617.4 67L621.2 48.6L622.3 45.8L625.3 40.1L626.1 37.3L626.2 35.4L625.7 32.6L614.7 32.3L612.9 32.3L612.3 31.7L612.2 22.2L612 21.2L596.6 20.6L566.8 20.3L540.6 20.4L509 21L509 95.8Z"/>
<path fill="#932667" d="M543 84.4L557.8 84.7L570.4 84.6L580.3 84.1L587.6 83.1L590.3 82.5L593 81.6L595.7 80.3L597.5 79.2L601.1 76.2L604.4 72.2L607.3 67.5L609.9 61.8L611.7 57.1L614.4 48.6L615.6 45.8L616.6 43.9L619.3 40.1L620.5 38.3L621 36.4L621 35.4L620.6 33.5L620.3 32.6L612.9 32.4L612.1 31.7L612.1 22.2L612 21.7L602 21L587.6 20.7L547.8 20.6L509 21.4L509 83.2L542.4 84.4Z"/>
<path fill="#ae305c" d="M554.9 76L562.3 76.1L569.5 75.9L575.8 75.5L581.2 74.9L585.8 74.1L589.4 73.1L593 71.6L595.7 70L598.4 67.8L600.5 65.6L602.9 62.4L604.7 59.4L607.6 53.3L613.9 36.4L614.2 34.5L614.2 32.6L612.9 32.6L612 31.7L612 22.1L604.7 21.5L596.6 21.1L568.6 20.8L541.5 20.9L509 21.8L509 72L537.9 74.9L554.2 75.9Z"/>
<path fill="#c73e4c" d="M554.6 69.4L560.5 69.5L566.8 69.5L572.2 69.1L577.6 68.5L582.2 67.8L586.7 66.6L590.3 65.2L593 63.8L595.7 61.9L598.4 59.4L600.9 56.2L602.7 53.3L604.5 49.6L606.1 45.8L608 40.1L609.3 35.4L609.7 32.6L609.9 28.8L609.9 26L609.4 22.2L602 21.7L593.9 21.4L564.1 21L539.7 21.2L509 22.2L509 61.3L524.4 65L534.3 67L544.2 68.5L554.2 69.3Z"/>
<path fill="#dd513a" d="M550.8 63.7L556 64.1L561.4 64.3L566.8 64.2L572.2 63.8L576.7 63.2L581.2 62.3L584.9 61.2L588.5 59.8L591.2 58.4L593.9 56.6L596.4 54.3L598.4 51.9L600.2 49.2L602 45.8L604.5 39.2L605.7 34.5L606.4 28.8L606.3 26L605.4 22.2L590.3 21.5L564.1 21.2L540.6 21.5L518.9 22.2L515.9 25.1L513.6 27.9L512.7 29.8L509.4 38.3L509 39.6L509 44.9L509.3 45.8L510.4 47.7L511.9 49.6L514 51.5L516.7 53.3L520 55.2L523.5 56.9L527.1 58.3L531.6 59.8L540.6 62.1L550.5 63.7Z"/>
<path fill="#ed6925" d="M550.5 59L558.7 59.7L566.8 59.7L574.9 58.7L581.2 57.3L586.7 55.3L589.4 53.8L591.2 52.6L593 51.2L594.8 49.4L596.6 47.2L598.1 44.9L599.6 42L601.1 38.1L602.1 34.5L602.9 29.8L603 27.9L602.7 26L602 24.1L600.9 22.2L589.4 21.8L573.1 21.5L547.8 21.5L525.9 22.2L523.5 24.3L521.2 26.9L520.2 28.8L519.6 31.7L519.2 35.4L519.2 39.2L519.8 42L520.5 43.9L521.6 45.8L523.1 47.7L525.1 49.6L527.7 51.5L530.7 53.1L533.4 54.4L537 55.8L540.6 56.9L545.1 58.1L549.6 58.9Z"/>
<path fill="#f8850f" d="M553.9 55.2L561.4 55.7L568.6 55.4L574.9 54.5L581.2 52.7L586 50.5L588.5 49L590.3 47.6L592.1 45.9L593.8 43.9L596.2 40.1L597.4 37.3L598.3 34.5L598.9 31.7L599.2 28.8L598.9 26.9L598.1 25.1L596.6 23.2L595.5 22.2L571.3 21.7L550.5 21.7L532.3 22.2L529.8 23.9L528.4 25.1L527.1 26.5L526.2 27.9L525.6 29.8L525.4 32.6L525.5 35.4L526 38.3L526.6 40.1L527.4 42L528.7 43.9L530.3 45.8L532.5 47.6L534.3 48.9L537 50.4L539.7 51.6L546 53.7L553.3 55.1Z"/>
<path fill="#fca50a" d="M555.5 51.5L561.4 51.9L567.7 51.6L573.1 50.7L578.5 49.2L583.1 47.2L586.7 44.8L589.6 42L591.1 40.1L592.3 38.3L593.3 36.4L594.3 33.5L594.9 30.7L595 28.8L594.8 27.8L593.9 26.1L592.1 24.3L590.3 23.2L588.3 22.2L571.3 21.9L554.2 21.9L539.2 22.2L536.1 23.7L533.9 25.1L532.5 26.3L531.3 27.9L530.7 29.8L530.7 31.7L531 34.5L531.4 36.4L532.1 38.3L533.1 40.1L535.3 43L538.7 45.8L543.3 48.3L548.7 50.1L555.1 51.4Z"/>
<path fill="#fac62d" d="M557 47.7L562.3 48L567.6 47.7L572.2 46.8L576.7 45.4L580.3 43.7L584 41.1L586.7 38.3L587.9 36.4L588.9 34.5L589.8 31.7L590.1 29.8L590.1 28.8L589.8 27.9L589.1 26.9L588.2 26L586.8 25.1L583.1 23.4L578.6 22.2L568.6 22.1L547.8 22.2L543.3 23.5L539.8 25.1L537.3 26.9L536.5 27.9L536.1 28.8L535.9 29.8L536 31.7L536.3 33.5L536.8 35.4L538.3 38.3L540.7 41.1L544.2 43.6L547.8 45.4L552.4 46.8L556.9 47.7Z"/>
<path fill="#f2e661" d="M554.7 43L558.7 43.7L562.3 43.9L565.9 43.7L570 43L573.1 42L576.7 40.3L579.4 38.4L581.5 36.4L583.1 34L584 31.7L584.3 29.8L584.2 28.8L583.7 27.9L582.8 26.9L581.2 26L579 25.1L575.5 24.1L570.4 23.3L565.9 22.9L561.4 22.9L556.9 23.1L553.3 23.6L550.3 24.1L546.9 25.1L544.2 26.4L542.3 27.9L541.7 28.8L541.5 29.8L541.7 31.7L542.6 34.5L544.2 37L546 38.8L547.9 40.1L550.5 41.6L554.2 42.8Z"/>
<path fill="#fcffa4" d="M557.1 38.3L559.6 38.7L562.3 38.9L566.8 38.5L569.5 37.7L571.3 36.9L573.1 35.8L574.6 34.5L575.8 33L576.5 31.7L577.1 29.8L576.9 28.8L576 27.9L574.2 26.9L571.3 26.1L568.6 25.6L562.3 25.2L556 25.7L554.2 26.1L551.3 26.9L549.6 27.9L548.7 28.7L548.4 29.8L548.8 31.7L549.6 33.3L550.5 34.5L551.5 35.4L553.3 36.7L556.9 38.2Z"/>
<path d="M612.1 23.2V32.6H653.5" fill="none" stroke="#8e8e8e" stroke-width="1.7"/>
<path d="M509.0 119.45H653.5" fill="none" stroke="#7d7d7d" stroke-width="2.6"/>
<path d="M509.0 22.9H623.0V8.1" fill="none" stroke="#ffb400" stroke-width="2" stroke-linejoin="miter"/>
</g>
<rect x="509.0" y="8.1" width="144.5" height="113.1" fill="none" stroke="#000" stroke-width="0.8"/>
<path d="M509.0 121.2v3.3M545.1 121.2v3.3M581.2 121.2v3.3M617.4 121.2v3.3M653.5 121.2v3.3M509.0 121.2h-3.3M509.0 83.5h-3.3M509.0 45.8h-3.3M509.0 8.1h-3.3" stroke="#000" stroke-width="0.8" fill="none"/>
<g font-size="8.9" text-anchor="middle">
<text x="509.0" y="135.9">0</text>
<text x="545.1" y="135.9">2</text>
<text x="581.2" y="135.9">4</text>
<text x="617.4" y="135.9">6</text>
<text x="653.5" y="135.9">8</text>
</g><g font-size="8.9" text-anchor="end">
<text x="501.7" y="124.6">3</text>
<text x="501.7" y="86.9">5</text>
<text x="501.7" y="49.2">7</text>
<text x="501.7" y="11.5">9</text>
</g>
<rect x="659.4" y="114.13" width="4.7" height="7.37" fill="#000004"/>
<rect x="659.4" y="107.06" width="4.7" height="7.37" fill="#0c0826"/>
<rect x="659.4" y="99.99" width="4.7" height="7.37" fill="#240c4f"/>
<rect x="659.4" y="92.92" width="4.7" height="7.37" fill="#420a68"/>
<rect x="659.4" y="85.86" width="4.7" height="7.37" fill="#5d126e"/>
<rect x="659.4" y="78.79" width="4.7" height="7.37" fill="#781c6d"/>
<rect x="659.4" y="71.72" width="4.7" height="7.37" fill="#932667"/>
<rect x="659.4" y="64.65" width="4.7" height="7.37" fill="#ae305c"/>
<rect x="659.4" y="57.58" width="4.7" height="7.37" fill="#c73e4c"/>
<rect x="659.4" y="50.51" width="4.7" height="7.37" fill="#dd513a"/>
<rect x="659.4" y="43.44" width="4.7" height="7.37" fill="#ed6925"/>
<rect x="659.4" y="36.38" width="4.7" height="7.37" fill="#f8850f"/>
<rect x="659.4" y="29.31" width="4.7" height="7.37" fill="#fca50a"/>
<rect x="659.4" y="22.24" width="4.7" height="7.37" fill="#fac62d"/>
<rect x="659.4" y="15.17" width="4.7" height="7.37" fill="#f2e661"/>
<rect x="659.4" y="8.10" width="4.7" height="7.37" fill="#fcffa4"/>
<rect x="659.4" y="8.1" width="4.7" height="113.1" fill="none" stroke="#000" stroke-width="0.8"/>
<g font-size="7.6">
<text x="671.7" y="124.5">0.0</text>
<text x="671.7" y="108.6">0.6</text>
<text x="671.7" y="92.7">1.2</text>
<text x="671.7" y="76.8">1.8</text>
<text x="671.7" y="60.8">2.4</text>
<text x="671.7" y="44.9">3.0</text>
<text x="671.7" y="29.0">3.6</text>
<text x="671.7" y="13.0">4.2</text>
</g>
<path d="M664.1 121.2h3.2M664.1 105.3h3.2M664.1 89.3h3.2M664.1 73.4h3.2M664.1 57.5h3.2M664.1 41.6h3.2M664.1 25.6h3.2M664.1 9.7h3.2" stroke="#000" stroke-width="0.8" fill="none"/>
<text transform="translate(693.2 65.0) rotate(90)" font-size="8.7" text-anchor="middle">Electron Temperature, [eV]</text>
<text x="472.5" y="9.2" font-size="10.7">(c)</text>
</g>
<g>
<rect x="44.7" y="160.2" width="144.5" height="113.1" fill="#02020c"/>
<clipPath id="cd"><rect x="44.7" y="160.2" width="144.5" height="113.1"/></clipPath>
<g clip-path="url(#cd)">
<path fill="#0c0826" d="M44.7 273.3L189.1 273.3L189.1 160.2L44.7 160.2L44.7 272.4Z"/>
<path fill="#240c4f" d="M44.7 273.3L189 273.3L189 160.2L44.7 160.2L44.7 272.4Z"/>
<path fill="#420a68" d="M44.7 273.3L188.9 273.3L188.9 160.2L44.7 160.2L44.7 272.4Z"/>
<path fill="#5d126e" d="M44.7 273.3L188.8 273.3L188.8 160.2L44.7 160.2L44.7 272.4Z"/>
<path fill="#781c6d" d="M44.7 273.3L188.7 273.3L188.7 160.2L44.7 160.2L44.7 272.4Z"/>
<path fill="#932667" d="M44.7 273.3L188.6 273.3L188.6 160.2L44.7 160.2L44.7 272.4Z"/>
<path fill="#ae305c" d="M44.7 273.3L188.5 273.3L188.5 160.2L44.7 160.2L44.7 272.4Z"/>
<path fill="#c73e4c" d="M44.7 273.3L188.4 273.3L188.4 160.2L44.7 160.2L44.7 272.4Z"/>
<path fill="#dd513a" d="M44.7 273.3L188.3 273.3L188.3 160.2L44.7 160.2L44.7 272.4Z"/>
<path fill="#ed6925" d="M44.7 271.4L44.7 271.8L64.6 271.8L100.7 271.7L126.8 271.4L137.7 269.4L146.8 267L150.4 265.8L154 264.2L156.7 262.8L159.5 261L163 258.2L165.7 255.2L168.1 251.6L170.2 246.9L171.9 241.3L173 235.6L173.6 229L173.5 222.4L173 216.8L172 212L170.8 208.3L169.1 204.5L166.5 200.7L163.8 197.9L160.2 195.1L155.7 192.2L148.6 188L147.7 187.3L146.5 185.6L146.3 184.7L146.8 183.9L147.7 183.2L147.7 181.9L147.7 176.2L146.8 175.1L138.6 174.8L123.3 174.6L44.7 174.5L44.7 270.5Z"/>
<path fill="#f8850f" d="M53.4 266.7L59.2 267.2L64.6 267.4L71.8 267.2L80.8 266.7L96.2 265.3L103.4 264.2L109.7 263.1L115.1 261.8L119.7 260.4L124.2 258.9L128.7 257L132.3 255.1L136.4 252.6L139.5 250.2L142 247.9L144.6 245L146.8 242L148.8 238.4L150.4 234.7L151.6 230.9L152.3 227.1L152.7 223.3L152.7 218.6L152.4 215.8L151.8 212L150.1 206.4L148 201.7L142 190.4L140.5 186.6L138.6 180.3L136.5 175.3L125.1 174.9L107.9 174.7L44.7 174.8L44.7 266L48.3 266.2L52.8 266.6Z"/>
<path fill="#fca50a" d="M59 258.2L63.7 258.5L68.2 258.5L75.4 258.1L82.6 257.4L94.4 255.6L99.6 254.4L104.3 253.2L108.8 251.6L112.4 250.2L116 248.4L119.7 246.4L122.4 244.5L125.2 242.2L128.2 239.4L130.5 236.6L132.5 233.7L134.1 230.9L135.4 228.1L136.6 224.3L137.5 220.5L138 216.8L138.1 213L137.9 209.2L137.2 204.5L135.9 198.8L133.9 192.2L131.5 185.6L129.3 180.9L127 177.2L125.5 175.3L124.2 175.2L96.2 174.9L44.7 175L44.7 255.9L48.3 256.2L58.2 258.1Z"/>
<path fill="#fac62d" d="M59.4 247.9L62.8 248.3L66.4 248.4L70.9 248.2L77.2 247.7L88.1 246L92.6 244.9L97.1 243.6L100.7 242.4L104.3 240.8L107.9 238.9L110.6 237.2L113.3 235.2L116 232.8L117.9 230.9L120.2 228.1L122.4 224.6L123.9 221.5L125.1 218.4L126 214.9L126.7 211.1L126.9 207.3L126.8 203.6L126.4 199.8L125.5 195.1L124.4 191.3L122.9 187.5L121.5 184.7L119.7 181.8L117.3 179L114.2 176.4L112.7 175.3L112.4 175.3L89 175.1L51.3 175.3L47.4 176.4L44.7 176.6L44.7 243.7L46.5 243.9L48.3 244.3L55.5 246.8L59.2 247.8Z"/>
<path fill="#f2e661" d="M61.7 235.6L64.6 236.1L67.3 236.2L71.8 236.1L76.3 235.7L85.3 234.3L92.6 232.3L98.4 229.9L103.4 227L105.7 225.2L107.9 223.2L109.7 221.2L111.6 218.6L113.2 215.8L114.5 213L115.4 210.2L116.1 206.4L116.4 203.6L116.3 199.8L115.9 197L115.1 193.9L114.2 191.3L112.8 188.5L110.8 185.6L109 183.8L106.7 181.9L104.3 180.4L101.6 179.2L98.9 178.4L96.2 177.8L92.6 177.4L86.2 177.3L78.1 178.1L67.3 180L62.8 181.1L59.2 182.5L55.5 184.4L48.3 189L46.5 189.8L44.7 190.1L44.7 226.9L45.6 227L47.4 227.6L49.2 228.6L53.7 231.9L56.4 233.6L58.7 234.7L61 235.4Z"/>
<path fill="#fcffa4" d="M69.8 218.6L74.5 219L79 218.9L83.5 218.4L87.1 217.7L90.8 216.5L94.4 214.6L97.1 212.5L99.3 210.2L101 207.3L101.8 205.4L102.3 203.6L102.5 201.7L102.5 199.8L101.9 197L100.7 194.5L98.8 192.2L96.1 190.4L92.6 189.1L89 188.7L85.3 188.8L80.8 189.6L75.4 191.1L70 193L66.4 194.8L63.7 196.7L61.5 198.8L59.9 201.7L59 204.5L58.8 206.4L58.9 208.3L59.5 211.1L60.9 213.9L62.8 215.9L65.5 217.5L69.1 218.5Z"/>
<path d="M147.8 175.3V184.7H189.2" fill="none" stroke="#60737b" stroke-width="1.7"/>
<path d="M44.7 271.55H189.2" fill="none" stroke="#5f6a70" stroke-width="2.6"/>
<path d="M44.7 175.0H158.7V160.2" fill="none" stroke="#ffb400" stroke-width="2" stroke-linejoin="miter"/>
<rect x="187.5" y="160.2" width="1.5" height="113.1" fill="#1a0b40"/>
</g>
<rect x="44.7" y="160.2" width="144.5" height="113.1" fill="none" stroke="#000" stroke-width="0.8"/>
<path d="M44.7 273.3v3.3M80.8 273.3v3.3M117.0 273.3v3.3M153.1 273.3v3.3M189.2 273.3v3.3M44.7 273.3h-3.3M44.7 235.6h-3.3M44.7 197.9h-3.3M44.7 160.2h-3.3" stroke="#000" stroke-width="0.8" fill="none"/>
<g font-size="8.9" text-anchor="middle">
<text x="44.7" y="288.0">0</text>
<text x="80.8" y="288.0">2</text>
<text x="117.0" y="288.0">4</text>
<text x="153.1" y="288.0">6</text>
<text x="189.2" y="288.0">8</text>
</g><g font-size="8.9" text-anchor="end">
<text x="37.4" y="276.7">3</text>
<text x="37.4" y="239.0">5</text>
<text x="37.4" y="201.3">7</text>
<text x="37.4" y="163.6">9</text>
</g>
<rect x="195.1" y="266.23" width="4.7" height="7.37" fill="#000004"/>
<rect x="195.1" y="259.16" width="4.7" height="7.37" fill="#0c0826"/>
<rect x="195.1" y="252.09" width="4.7" height="7.37" fill="#240c4f"/>
<rect x="195.1" y="245.02" width="4.7" height="7.37" fill="#420a68"/>
<rect x="195.1" y="237.96" width="4.7" height="7.37" fill="#5d126e"/>
<rect x="195.1" y="230.89" width="4.7" height="7.37" fill="#781c6d"/>
<rect x="195.1" y="223.82" width="4.7" height="7.37" fill="#932667"/>
<rect x="195.1" y="216.75" width="4.7" height="7.37" fill="#ae305c"/>
<rect x="195.1" y="209.68" width="4.7" height="7.37" fill="#c73e4c"/>
<rect x="195.1" y="202.61" width="4.7" height="7.37" fill="#dd513a"/>
<rect x="195.1" y="195.54" width="4.7" height="7.37" fill="#ed6925"/>
<rect x="195.1" y="188.47" width="4.7" height="7.37" fill="#f8850f"/>
<rect x="195.1" y="181.41" width="4.7" height="7.37" fill="#fca50a"/>
<rect x="195.1" y="174.34" width="4.7" height="7.37" fill="#fac62d"/>
<rect x="195.1" y="167.27" width="4.7" height="7.37" fill="#f2e661"/>
<rect x="195.1" y="160.20" width="4.7" height="7.37" fill="#fcffa4"/>
<rect x="195.1" y="160.2" width="4.7" height="113.1" fill="none" stroke="#000" stroke-width="0.8"/>
<g font-size="7.6">
<text x="207.4" y="276.6">0</text>
<text x="207.4" y="261.7">80</text>
<text x="207.4" y="246.8">160</text>
<text x="207.4" y="231.9">240</text>
<text x="207.4" y="217.0">320</text>
<text x="207.4" y="202.1">400</text>
<text x="207.4" y="187.2">480</text>
<text x="207.4" y="172.3">560</text>
</g>
<path d="M199.8 273.3h3.2M199.8 258.4h3.2M199.8 243.5h3.2M199.8 228.6h3.2M199.8 213.7h3.2M199.8 198.8h3.2M199.8 183.9h3.2M199.8 169.0h3.2" stroke="#000" stroke-width="0.8" fill="none"/>
<text transform="translate(230.9 217.2) rotate(90)" font-size="8.7" text-anchor="middle">Gas temperature, [K]</text>
<text transform="translate(24.4 217.6) rotate(-90)" font-size="11" text-anchor="middle">Height, Z [cm]</text>
<text x="117.0" y="301.5" font-size="11" text-anchor="middle">Radius, R [cm]</text>
<text x="-0.8" y="161.3" font-size="10.7">(d)</text>
</g>
<g>
<rect x="276.9" y="160.2" width="144.5" height="113.1" fill="#040312"/>
<clipPath id="ce"><rect x="276.9" y="160.2" width="144.5" height="113.1"/></clipPath>
<g clip-path="url(#ce)">
<path fill="#150b37" d="M276.9 273.3L421.4 273.3L421.4 160.2L276.9 160.2L276.9 272.4ZM309.4 174.3L308.9 174.3L309.5 173.4L310.7 172.5L313 171.3L317.5 170L323 169.3L331.1 169.1L337.4 169.5L342.8 170.4L346.4 171.7L347.8 172.5L349 173.4L349.6 174.3L310.3 174.4Z"/>
<path fill="#2f0a5b" d="M276.9 273.3L421.4 273.3L421.4 160.2L276.9 160.2L276.9 272.4ZM302.2 174.3L301.6 174.3L302 173.4L303.1 172.1L305 170.6L307.6 169.2L310.3 168.2L313 167.4L316.6 166.7L320.2 166.3L324.8 166.1L331.1 166L340.1 166.5L343.7 167L347.3 167.9L350.1 168.8L352.8 170.1L354.6 171.3L355.9 172.5L356.6 173.4L357 174.3L332.9 174.5L303.1 174.4Z"/>
<path fill="#4a0c6b" d="M276.9 273.3L421.4 273.3L421.4 160.2L276.9 160.2L276.9 272.4ZM295.9 174.3L295.7 174.3L295.9 173.4L296.5 172.5L297.7 171L299.5 169.4L302.2 167.7L305.8 166.2L309.4 165.2L313 164.4L317.5 163.9L323.9 163.5L331.1 163.4L337.4 163.6L342.8 164.1L347.3 164.8L351.7 165.9L354.6 166.9L358 168.7L360 170.1L361.4 171.5L362.6 173.4L362.9 174.3L332.9 174.6L296.8 174.4Z"/>
<path fill="#64156e" d="M276.9 273.3L421.4 273.3L421.4 160.2L276.9 160.2L276.9 272.4ZM290.4 174.3L290.1 174.3L290.8 172.5L292.3 170.3L295 167.8L297.7 166.1L301.3 164.5L304.9 163.4L309.4 162.4L313.9 161.8L321.2 161.3L329.3 161.1L337.4 161.3L344.6 161.8L350.1 162.5L354.6 163.6L358.4 164.9L362.1 166.8L364.7 168.7L366.5 170.6L367.8 172.5L368.4 174.3L333.8 174.7L291.3 174.4Z"/>
<path fill="#7d1e6d" d="M276.9 273.3L421.4 273.3L421.4 160.2L361.8 160.2L351.4 160.2L356.4 161.1L359.9 162.1L363.6 163.5L366.3 164.9L369 166.8L371.8 169.6L373.5 172.5L374 174.3L357.3 174.7L332.9 174.8L304.9 174.7L284.5 174.3L285.1 172.5L286.8 169.6L289.5 166.8L292.2 164.9L295 163.5L298.7 162.1L302.2 161.1L307.2 160.2L276.9 160.2L276.9 272.4Z"/>
<path fill="#972766" d="M276.9 273.3L421.4 273.3L421.4 160.2L376.2 160.2L364.5 160.2L368.1 161.5L370.8 162.8L372.8 164L375.2 165.9L377 167.7L378.4 169.6L379.7 172.5L380.2 174.3L362.7 174.7L334.7 174.8L302.2 174.7L278.4 174.3L278.8 172.5L280.2 169.6L281.6 167.7L283.4 165.9L285.8 164L287.7 162.8L290.4 161.5L294 160.2L276.9 160.2L276.9 272.4Z"/>
<path fill="#b0315b" d="M276.9 273.3L421.4 273.3L421.4 160.2L409.7 160.2L376.2 160.2L379 161.7L380.8 162.9L383.9 165.9L385.3 167.7L386.4 169.6L387.5 172.5L387.8 174.3L380.8 174.7L343.7 174.9L303.1 174.9L276.9 174.5L276.9 272.4ZM276.9 163L276.9 163.6L279.6 161.7L282.3 160.2L276.9 160.2L276.9 162.1Z"/>
<path fill="#c73e4c" d="M276.9 273.3L421.4 273.3L421.4 160.2L390.8 160.2L391.1 165.9L391.2 174.3L390.7 174.9L380.8 175.1L373.5 174.9L316.6 175L276.9 174.7L276.9 272.4Z"/>
<path fill="#db503b" d="M276.9 271.4L276.9 272.2L289.5 272.2L414.2 272L418.7 271.9L420 271.4L420.5 270.6L421.4 267.8L421.4 184L413.3 183.9L380.8 183.9L380.6 183.8L380.5 178.1L380.1 176.2L379.9 175.8L378.3 175.3L369.9 175.1L307.6 175.1L276.9 174.9L276.9 270.5Z"/>
<path fill="#eb6628" d="M276.9 271.4L276.9 271.8L289.5 271.8L360.9 271.7L411.7 271.4L415.1 271.1L416.9 270.6L417.8 270.1L418.7 269.3L419.7 267.6L420.5 265.8L421.4 261.9L421.4 184.4L418.7 184.2L413.3 184.1L380.8 184.2L380.3 183.8L380.2 180L379.9 177.8L378 177L375.3 176.2L369.7 175.3L276.9 175L276.9 270.5Z"/>
<path fill="#f68013" d="M276.9 271.4L329.3 271.4L359.1 270.8L377.1 269.7L401.5 267.4L413.3 266.9L415.1 266.6L416.9 265.8L417.8 265.1L418.7 264L419.6 262.1L420.5 258.6L421.4 251.1L421.4 186.5L421 184.7L418.7 184.4L413.3 184.4L380.8 184.4L380.1 183.8L379.9 180.6L378 179.5L376.2 178.7L373.5 177.9L369.8 177.2L358.2 175.9L350.1 175.5L339 175.3L276.9 175.2L276.9 270.5Z"/>
<path fill="#fb9d07" d="M276.9 266.7L276.9 267.6L289.5 267.6L331.1 267.4L355.9 266.7L367.2 265.9L377.1 264.9L400.6 261.3L413.3 260.2L415.1 259.7L416 259.3L416.9 258.5L417.8 257.3L418.7 255.2L419.6 251.4L420.5 243.1L420.9 232.8L421.1 218.6L421.1 205.4L420.9 196L420.3 189.4L419.6 186.5L418.7 184.7L412.4 184.6L388.9 184.7L381.7 184.9L379.9 184.8L378 183.1L376.3 181.9L374.3 180.9L371.3 180L358.2 177.5L347.3 176.5L337.4 176.1L317.5 176L276.9 176.8L276.9 265.8Z"/>
<path fill="#fbbc21" d="M276.9 262L276.9 262.4L330.2 262.1L348.2 261.5L361.8 260.3L369.9 259.2L379 257.2L388 254.4L402.4 249L406 248.1L412.4 247.1L414.2 246.4L415.1 245.6L416 244.4L416.9 242.2L417.8 238L418.3 233.7L418.7 228.1L419.1 214.9L419 204.5L418.7 197.6L417.8 192.8L416.9 190.9L416 190L415.1 189.4L413.3 189L408.8 188.9L395.2 188.7L385.3 188.9L379.9 188.4L377.4 187.5L373.5 185L371 183.8L368.1 182.8L365.4 182.2L360 180.2L352.8 178.6L349.3 178.1L343.7 177.6L331.1 177.2L315.7 177.4L304 177.9L285.9 179.4L276.9 179.6L276.9 261Z"/>
<path fill="#f5db4c" d="M276.9 254.4L276.9 254.6L292.3 254.6L319.3 254.5L332.9 254L343.7 253.3L353.7 252L361.8 250.2L368.8 247.9L374.2 245L378.1 242.2L381.1 239.4L383.4 236.5L385.8 232.8L387.6 229L389.2 224.3L390.2 219.6L390.7 214.9L390.7 211.1L390.2 208.3L389.4 205.4L387.8 202.6L386.2 200.7L383.9 198.8L376.2 194.3L369 189.7L365.4 187.9L363.8 186.6L360.9 184.7L357.1 182.8L354.6 181.9L351 180.8L347.2 180L341.9 179.3L337.4 179L329.3 178.9L315.7 179.2L306.7 180L285.9 183.1L281.4 183.5L276.9 183.7L276.9 253.5Z"/>
<path fill="#f3f68a" d="M288.8 240.3L304.9 240.3L316.6 240L326.1 239.4L333.5 238.4L340.1 237L345.5 235.2L350.5 232.8L354.6 229.7L356.4 227.9L358.5 225.2L360.2 222.4L361.4 219.6L362.3 216.8L362.9 213L363.1 210.2L362.8 206.4L362.1 202.6L361.2 199.8L359.5 196L357.8 193.2L355.6 190.4L353.6 188.5L351 186.6L348.2 185.1L344.9 183.8L342.8 183.2L337.4 182.3L327.5 181.9L318.4 182.2L312.8 182.8L307.4 183.8L299.9 185.6L289.5 188.7L285 189.8L280.5 190.4L276.9 190.6L276.9 240.2L288.6 240.3Z"/>
<path d="M380.0 175.3V184.7H421.4" fill="none" stroke="#60737b" stroke-width="1.7"/>
<path d="M276.9 271.55H421.4" fill="none" stroke="#5f6a70" stroke-width="2.6"/>
<path d="M276.9 175.0H390.9V160.2" fill="none" stroke="#ffb400" stroke-width="2" stroke-linejoin="miter"/>
<ellipse cx="330.7" cy="192.2" rx="1.7" ry="1.2" fill="#fff" transform="rotate(-25 330.7 192.2)"/>
</g>
<rect x="276.9" y="160.2" width="144.5" height="113.1" fill="none" stroke="#000" stroke-width="0.8"/>
<path d="M276.9 273.3v3.3M313.0 273.3v3.3M349.1 273.3v3.3M385.3 273.3v3.3M421.4 273.3v3.3M276.9 273.3h-3.3M276.9 235.6h-3.3M276.9 197.9h-3.3M276.9 160.2h-3.3" stroke="#000" stroke-width="0.8" fill="none"/>
<g font-size="8.9" text-anchor="middle">
<text x="276.9" y="288.0">0</text>
<text x="313.0" y="288.0">2</text>
<text x="349.1" y="288.0">4</text>
<text x="385.3" y="288.0">6</text>
<text x="421.4" y="288.0">8</text>
</g><g font-size="8.9" text-anchor="end">
<text x="269.6" y="276.7">3</text>
<text x="269.6" y="239.0">5</text>
<text x="269.6" y="201.3">7</text>
<text x="269.6" y="163.6">9</text>
</g>
<rect x="427.3" y="266.23" width="4.7" height="7.37" fill="#040312"/>
<rect x="427.3" y="259.16" width="4.7" height="7.37" fill="#150b37"/>
<rect x="427.3" y="252.09" width="4.7" height="7.37" fill="#2f0a5b"/>
<rect x="427.3" y="245.02" width="4.7" height="7.37" fill="#4a0c6b"/>
<rect x="427.3" y="237.96" width="4.7" height="7.37" fill="#64156e"/>
<rect x="427.3" y="230.89" width="4.7" height="7.37" fill="#7d1e6d"/>
<rect x="427.3" y="223.82" width="4.7" height="7.37" fill="#972766"/>
<rect x="427.3" y="216.75" width="4.7" height="7.37" fill="#b0315b"/>
<rect x="427.3" y="209.68" width="4.7" height="7.37" fill="#c73e4c"/>
<rect x="427.3" y="202.61" width="4.7" height="7.37" fill="#db503b"/>
<rect x="427.3" y="195.54" width="4.7" height="7.37" fill="#eb6628"/>
<rect x="427.3" y="188.47" width="4.7" height="7.37" fill="#f68013"/>
<rect x="427.3" y="181.41" width="4.7" height="7.37" fill="#fb9d07"/>
<rect x="427.3" y="174.34" width="4.7" height="7.37" fill="#fbbc21"/>
<rect x="427.3" y="167.27" width="4.7" height="7.37" fill="#f5db4c"/>
<rect x="427.3" y="160.20" width="4.7" height="7.37" fill="#f3f68a"/>
<rect x="427.3" y="160.2" width="4.7" height="113.1" fill="none" stroke="#000" stroke-width="0.8"/>
<g font-size="7.6">
<text x="439.6" y="265.9">−6</text>
<text x="439.6" y="249.4">−4</text>
<text x="439.6" y="233.0">−2</text>
<text x="439.6" y="216.6">0</text>
<text x="439.6" y="200.1">2</text>
<text x="439.6" y="183.7">4</text>
<text x="439.6" y="167.2">6</text>
</g>
<path d="M432.0 262.5h3.2M432.0 246.1h3.2M432.0 229.7h3.2M432.0 213.2h3.2M432.0 196.8h3.2M432.0 180.3h3.2M432.0 163.9h3.2" stroke="#000" stroke-width="0.8" fill="none"/>
<text transform="translate(460.0 217.2) rotate(90)" font-size="8.7" text-anchor="middle">Plasma potential, [V]</text>
<text x="349.1" y="301.5" font-size="11" text-anchor="middle">Radius, R [cm]</text>
<text x="240.4" y="161.3" font-size="10.7">(e)</text>
</g>
<g>
<rect x="509.0" y="160.2" width="144.5" height="113.1" fill="#02020c"/>
<clipPath id="cf"><rect x="509.0" y="160.2" width="144.5" height="113.1"/></clipPath>
<g clip-path="url(#cf)">
<path fill="#0e092b" d="M551.8 208.3L554.2 208.9L557.8 208.9L560.5 208.6L564.1 207.6L568.6 205.7L571.3 204.2L574 202L575.9 199.8L577.1 197.9L578.1 195.1L578.2 192.2L577.8 190.4L577.1 188.5L575.9 186.6L575 185.6L573.1 184.2L570.4 183.2L566.8 182.8L565 182.9L561.4 183.3L557.8 184.5L556 185.2L552.4 187.1L549.6 189.1L547.5 191.3L545.7 194.1L545 196L544.7 197.9L545 200.7L545.6 202.6L546.6 204.5L547.3 205.4L548.7 206.8L550.5 207.8L551.4 208.1Z"/>
<path fill="#2d0b59" d="M551.7 207.3L554.2 208L556.9 208.2L559.6 208L563.2 207.2L565.9 206.2L569.5 204.5L572.3 202.6L574.9 199.9L575.8 198.8L576.7 197L577.4 195.1L577.6 193.2L577.3 191.3L576.7 189.3L575.8 187.5L575 186.6L573.1 185L570.4 183.8L567.7 183.4L565 183.4L562 183.8L558.7 184.7L556 185.8L552.8 187.5L550.3 189.4L548.4 191.3L547 193.2L546 195.5L545.7 197.9L546 201.1L546.9 203.2L547.8 204.6L549.6 206.2L551.4 207.2Z"/>
<path fill="#4f0d6c" d="M553.1 206.4L555.1 206.9L557.8 207L560.5 206.8L564.1 205.8L566.8 204.8L569.5 203.3L571.9 201.7L574 199.5L575.6 197L576.3 195.1L576.5 193.2L576.3 191.3L575.7 189.4L574.6 187.5L573.1 186L570.7 184.7L568.6 184.2L565.9 184L563.2 184.2L559.6 185.1L556.9 186.2L554.2 187.5L551.5 189.4L549.6 191.3L548.3 193.2L547.4 195.1L547 197.9L547.2 199.8L547.8 201.7L548.9 203.6L550.5 205.1L552.4 206.1Z"/>
<path fill="#6d186e" d="M554.3 205.4L556.9 205.9L559.6 205.8L562.3 205.3L565 204.5L567.7 203.3L570.4 201.6L572.5 199.8L574 197.9L575 196L575.5 194.1L575.5 192.2L574.7 189.4L573.5 187.5L572.5 186.6L570.4 185.4L568.6 184.9L566.8 184.7L564.1 184.7L561.4 185.2L558.7 186.1L556 187.3L554 188.5L551.7 190.4L550 192.2L549 194.1L548.4 196L548.2 197.9L548.6 199.8L549.3 201.7L550.5 203.3L552.4 204.7L554.2 205.4Z"/>
<path fill="#8d2369" d="M555.4 204.5L557.8 204.9L559.6 204.8L562.3 204.4L565 203.5L567.7 202.3L569.5 201.2L571.3 199.7L572.9 197.9L574 196L574.5 194.1L574.6 192.2L574.1 190.4L573.1 188.5L572.2 187.5L570.4 186.3L568.6 185.6L566.8 185.3L564.1 185.4L561.4 185.9L559.2 186.6L556.9 187.6L554.2 189.3L552.8 190.4L551.2 192.2L550.1 194.1L549.5 196L549.5 197.9L549.9 199.8L550.9 201.7L551.8 202.6L553.3 203.7L555.1 204.4Z"/>
<path fill="#ad305d" d="M556.4 203.6L558.7 203.8L560.5 203.7L562.3 203.4L565 202.5L567.7 201.3L569.5 200.1L570.9 198.8L572.2 197.3L572.9 196L573.6 194.1L573.6 192.2L573.2 190.4L572.2 188.7L571.3 187.8L570.4 187.1L568.6 186.3L566.8 186L564.1 186L562.3 186.3L559.6 187.1L556.9 188.3L555.2 189.4L554 190.4L552.3 192.2L551.7 193.2L550.9 195.1L550.7 197L551 198.8L551.9 200.7L552.7 201.7L554.2 202.7L556 203.4Z"/>
<path fill="#c83f4b" d="M557.6 202.6L559.6 202.7L561.4 202.6L563.2 202.2L565.9 201.2L567.7 200.2L569.5 198.9L570.6 197.9L571.9 196L572.3 195.1L572.7 193.2L572.7 192.2L572.2 190.4L571.7 189.4L570.4 188.1L568.6 187.1L566.8 186.7L565 186.6L563.2 186.7L561.4 187.2L558.7 188.2L556.9 189.1L555.2 190.4L554.2 191.3L552.8 193.2L552.4 194.1L551.9 196L551.9 197L552.4 198.8L553.3 200.3L554.2 201.2L555.1 201.8L556.9 202.5Z"/>
<path fill="#e15635" d="M559.5 201.7L561.4 201.6L563.2 201.2L566.8 199.7L569.5 197.7L570.4 196.6L571.3 195.1L571.8 193.2L571.8 192.2L571.2 190.4L570.6 189.4L569.6 188.5L568.6 187.9L567.6 187.5L565.9 187.2L564.1 187.3L562.3 187.6L558.7 188.9L556 190.7L554.5 192.2L553.9 193.2L553.2 195.1L553.2 196L553.3 197L553.9 198.8L554.6 199.8L555.9 200.7L556.9 201.2L558.7 201.6Z"/>
<path fill="#f2741c" d="M556.9 199.8L557.8 200.2L559.6 200.5L561.4 200.5L563.2 200.2L566.4 198.8L568.9 197L569.7 196L570.4 194.7L570.8 193.2L570.8 192.2L570.1 190.4L569.4 189.4L568 188.5L566.8 188.1L565 187.9L562.3 188.2L559.1 189.4L557.6 190.4L556.5 191.3L555.1 193.2L554.5 195.1L554.5 196L555.1 198L555.7 198.8L556.9 199.8Z"/>
<path fill="#fb9606" d="M558.1 198.8L560.5 199.4L563.2 199.1L565.9 198L567.7 196.8L569.1 195.1L569.8 193.2L569.5 191.3L569 190.4L567.7 189.3L565.9 188.7L563.2 188.7L560.5 189.6L559 190.4L557.8 191.3L556.3 193.2L555.8 195.1L555.9 196L556.2 197L556.8 197.9L557.8 198.7Z"/>
<path fill="#fbbc21" d="M559.6 197.9L561.4 198.2L564.1 197.7L565.9 196.8L567.7 195.2L568.4 194.1L568.7 193.2L568.7 192.2L568.4 191.3L567.7 190.4L566.8 189.8L565 189.3L563.2 189.4L560.5 190.4L559.1 191.3L558.2 192.2L557.6 193.2L557.3 194.1L557.2 195.1L557.5 196L558.1 197L558.7 197.4Z"/>
<path fill="#f3e35a" d="M559.5 196L560.5 196.6L562.3 196.8L564.1 196.4L565.9 195.4L567 194.1L567.4 193.2L567.4 192.2L566.8 191L565.8 190.4L564.1 190.1L562.7 190.4L561.4 190.9L559.6 192.2L559 193.2L558.8 194.1L558.9 195.1Z"/>
<path fill="#fcffa4" d="M561.7 195.1L563.2 195.2L564.1 194.9L565.3 194.1L566 193.2L566 192.2L565.2 191.3L564.1 191.1L563.2 191.2L561.3 192.2L560.7 193.2L560.7 194.1L561.4 194.9Z"/>
<path d="M612.1 175.3V184.7H653.5" fill="none" stroke="#8e8e8e" stroke-width="1.7"/>
<path d="M509.0 271.55H653.5" fill="none" stroke="#7d7d7d" stroke-width="2.6"/>
<path d="M509.0 175.0H623.0V160.2" fill="none" stroke="#ffb400" stroke-width="2" stroke-linejoin="miter"/>
</g>
<rect x="509.0" y="160.2" width="144.5" height="113.1" fill="none" stroke="#000" stroke-width="0.8"/>
<path d="M509.0 273.3v3.3M545.1 273.3v3.3M581.2 273.3v3.3M617.4 273.3v3.3M653.5 273.3v3.3M509.0 273.3h-3.3M509.0 235.6h-3.3M509.0 197.9h-3.3M509.0 160.2h-3.3" stroke="#000" stroke-width="0.8" fill="none"/>
<g font-size="8.9" text-anchor="middle">
<text x="509.0" y="288.0">0</text>
<text x="545.1" y="288.0">2</text>
<text x="581.2" y="288.0">4</text>
<text x="617.4" y="288.0">6</text>
<text x="653.5" y="288.0">8</text>
</g><g font-size="8.9" text-anchor="end">
<text x="501.7" y="276.7">3</text>
<text x="501.7" y="239.0">5</text>
<text x="501.7" y="201.3">7</text>
<text x="501.7" y="163.6">9</text>
</g>
<rect x="659.4" y="265.22" width="4.7" height="8.38" fill="#000004"/>
<rect x="659.4" y="257.14" width="4.7" height="8.38" fill="#0e092b"/>
<rect x="659.4" y="249.06" width="4.7" height="8.38" fill="#2d0b59"/>
<rect x="659.4" y="240.99" width="4.7" height="8.38" fill="#4f0d6c"/>
<rect x="659.4" y="232.91" width="4.7" height="8.38" fill="#6d186e"/>
<rect x="659.4" y="224.83" width="4.7" height="8.38" fill="#8d2369"/>
<rect x="659.4" y="216.75" width="4.7" height="8.38" fill="#ad305d"/>
<rect x="659.4" y="208.67" width="4.7" height="8.38" fill="#c83f4b"/>
<rect x="659.4" y="200.59" width="4.7" height="8.38" fill="#e15635"/>
<rect x="659.4" y="192.51" width="4.7" height="8.38" fill="#f2741c"/>
<rect x="659.4" y="184.44" width="4.7" height="8.38" fill="#fb9606"/>
<rect x="659.4" y="176.36" width="4.7" height="8.38" fill="#fbbc21"/>
<rect x="659.4" y="168.28" width="4.7" height="8.38" fill="#f3e35a"/>
<rect x="659.4" y="160.20" width="4.7" height="8.38" fill="#fcffa4"/>
<rect x="659.4" y="160.2" width="4.7" height="113.1" fill="none" stroke="#000" stroke-width="0.8"/>
<g font-size="7.6">
<text x="671.7" y="276.6">0.0</text>
<text x="671.7" y="260.5">0.3</text>
<text x="671.7" y="244.3">0.6</text>
<text x="671.7" y="228.2">0.9</text>
<text x="671.7" y="212.0">1.2</text>
<text x="671.7" y="195.9">1.5</text>
<text x="671.7" y="179.7">1.8</text>
<text x="671.7" y="163.5">2.1</text>
</g>
<path d="M664.1 273.3h3.2M664.1 257.1h3.2M664.1 241.0h3.2M664.1 224.8h3.2M664.1 208.7h3.2M664.1 192.5h3.2M664.1 176.4h3.2M664.1 160.2h3.2" stroke="#000" stroke-width="0.8" fill="none"/>
<text x="664.3" y="157.7" font-size="7.6" text-anchor="end">1e17</text>
<text transform="translate(691.8 217.2) rotate(90)" font-size="8.7" text-anchor="middle">Negative ion density, n<tspan dy="2" font-size="6">H</tspan><tspan dy="-4" font-size="5">−</tspan><tspan dy="2" font-size="8.7"> [m</tspan><tspan dx="0.5" dy="-3.6" font-size="6">−3</tspan><tspan dy="3.6">]</tspan></text>
<text x="581.2" y="301.5" font-size="11" text-anchor="middle">Radius, R [cm]</text>
<text x="472.5" y="161.3" font-size="10.7">(f)</text>
</g>
</svg>
</body></html>
